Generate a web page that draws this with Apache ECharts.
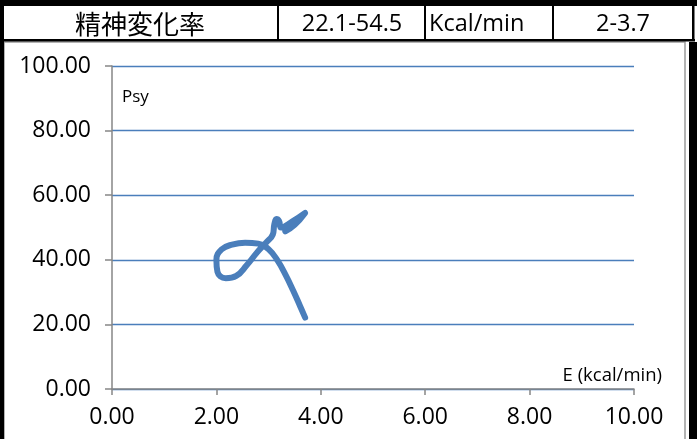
<!DOCTYPE html>
<html>
<head>
<meta charset="utf-8">
<script src="https://cdn.jsdelivr.net/npm/echarts@6/dist/echarts.min.js"></script>
<style>
html,body{margin:0;padding:0;background:#fff;}
#c{width:697px;height:439px;}
</style>
</head>
<body>
<div id="c"></div>
<script>
// Data
const energy = [3.70, 3.60, 3.47, 3.33, 3.17, 3.00, 2.80, 2.55, 2.30, 2.10, 2.00, 2.02, 2.18, 2.38, 2.58, 2.78, 2.95, 3.08, 3.11, 3.15, 3.20, 3.24, 3.45, 3.70, 3.50, 3.32];
const psy    = [22.1, 25.8, 30.5, 35.2, 39.8, 43.3, 45.0, 45.3, 44.7, 43.2, 40.0, 36.3, 34.3, 35.0, 38.3, 42.3, 45.3, 47.8, 51.0, 52.6, 52.0, 50.0, 51.8, 54.5, 50.8, 48.8];
const headerTexts = ['精神変化率', '22.1-54.5', 'Kcal/min', '2-3.7'];
const yAxisName = 'Psy';
const xAxisName = 'E (kcal/min)';

const FONT = 'Open Sans';
const chart = echarts.init(document.getElementById('c'), null, {renderer: 'canvas'});
const pts = energy.map((e, i) => [e, psy[i]]);

chart.setOption({
  animation: false,
  backgroundColor: '#fff',
  grid: {left: 112, right: 63, top: 66, bottom: 50},
  xAxis: {
    type: 'value', min: 0, max: 10, interval: 2,
    axisLine: {show: true, lineStyle: {color: '#868686', width: 1.5}},
    axisTick: {show: true, length: 6, lineStyle: {color: '#868686', width: 1.5}},
    splitLine: {show: false},
    axisLabel: {formatter: v => v.toFixed(2), color: '#000', fontFamily: FONT, fontSize: 23, margin: 17}
  },
  yAxis: {
    type: 'value', min: 0, max: 100, interval: 20,
    axisLine: {show: true, lineStyle: {color: '#868686', width: 1.5}},
    axisTick: {show: true, length: 7, lineStyle: {color: '#868686', width: 1.5}},
    splitLine: {show: true, lineStyle: {color: '#4a7ebb', width: 1.3}},
    axisLabel: {formatter: v => v.toFixed(2), color: '#000', fontFamily: FONT, fontSize: 23, margin: 21}
  },
  series: [{
    type: 'line',
    data: pts,
    smooth: 0.45,
    showSymbol: false,
    symbol: 'none',
    lineStyle: {color: '#4a7ebb', width: 6, cap: 'round', join: 'round'}
  }],
  graphic: [
    // outer frame pieces
    {type: 'rect', shape: {x: 4, y: 42, width: 681, height: 420}, style: {fill: 'none', stroke: '#9a9a9a', lineWidth: 1.5}, z: 1},
    {type: 'rect', shape: {x: 0, y: 0, width: 697, height: 6}, style: {fill: '#000'}, z: 10},
    {type: 'rect', shape: {x: 0, y: 0, width: 4, height: 439}, style: {fill: '#000'}, z: 10},
    {type: 'rect', shape: {x: 689, y: 42, width: 8, height: 397}, style: {fill: '#000'}, z: 10},
    {type: 'rect', shape: {x: 0, y: 39, width: 695, height: 2.5}, style: {fill: '#000'}, z: 10},
    {type: 'rect', shape: {x: 277, y: 5, width: 2, height: 36}, style: {fill: '#000'}, z: 10},
    {type: 'rect', shape: {x: 424, y: 5, width: 2, height: 36}, style: {fill: '#000'}, z: 10},
    {type: 'rect', shape: {x: 552, y: 5, width: 2, height: 36}, style: {fill: '#000'}, z: 10},
    {type: 'rect', shape: {x: 692, y: 5, width: 2.5, height: 36}, style: {fill: '#000'}, z: 10},
    // header texts
    {type: 'text', x: 140, y: 24, style: {text: headerTexts[0], font: '26px "Noto Sans CJK JP"', fill: '#000', textAlign: 'center', textVerticalAlign: 'middle'}, z: 11},
    {type: 'text', x: 352, y: 24, style: {text: headerTexts[1], font: '23.5px "' + FONT + '"', fill: '#000', textAlign: 'center', textVerticalAlign: 'middle'}, z: 11},
    {type: 'text', x: 429, y: 24, style: {text: headerTexts[2], font: '23.5px "' + FONT + '"', fill: '#000', textAlign: 'left', textVerticalAlign: 'middle'}, z: 11},
    {type: 'text', x: 623, y: 24, style: {text: headerTexts[3], font: '23.5px "' + FONT + '"', fill: '#000', textAlign: 'center', textVerticalAlign: 'middle'}, z: 11},
    // axis names inside the plot
    {type: 'text', x: 122, y: 97, style: {text: yAxisName, font: '17px "' + FONT + '"', fill: '#000', textAlign: 'left', textVerticalAlign: 'middle'}, z: 11},
    {type: 'text', x: 662, y: 376, style: {text: xAxisName, font: '18.5px "' + FONT + '"', fill: '#000', textAlign: 'right', textVerticalAlign: 'middle'}, z: 11}
  ]
});
</script>
</body>
</html>
